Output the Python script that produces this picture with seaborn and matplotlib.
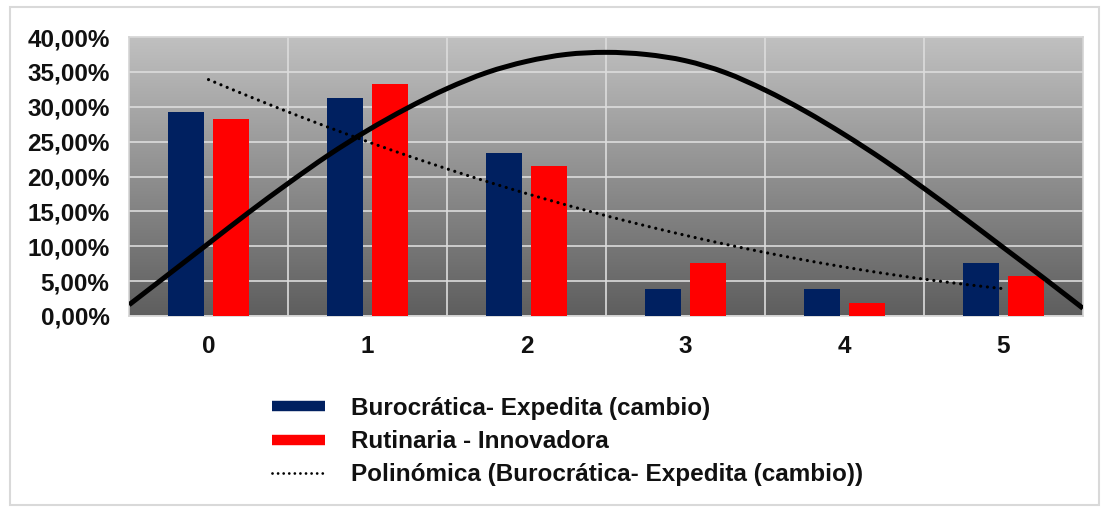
import numpy as np
import pandas as pd
import matplotlib
matplotlib.use("Agg")
import matplotlib.pyplot as plt
import seaborn as sns
from matplotlib.lines import Line2D
from matplotlib.patches import Rectangle, PathPatch
from matplotlib.path import Path
from matplotlib.ticker import FuncFormatter, FixedLocator

# ---- data ----
categories = [0, 1, 2, 3, 4, 5]
burocratica = [29.2, 31.25, 23.3, 3.8, 3.8, 7.6]
rutinaria = [28.3, 33.3, 21.5, 7.6, 1.8, 5.8]
series_names = ["Burocrática- Expedita (cambio)", "Rutinaria - Innovadora"]
trend_name = "Polinómica (Burocrática- Expedita (cambio))"

curve_x = [-0.5, -0.25, 0, 0.25, 0.5, 0.75, 1, 1.25, 1.5, 1.75, 2, 2.25, 2.5,
           2.75, 3, 3.25, 3.5, 3.75, 4, 4.25, 4.5, 4.75, 5, 5.25, 5.5]
curve_y = [1.6, 6.0, 10.4, 14.8, 19.0, 23.0, 26.6, 29.8, 32.6, 34.9, 36.5, 37.5, 37.8,
           37.5, 36.6, 34.9, 32.4, 29.4, 26.0, 22.3, 18.3, 14.1, 9.8, 5.5, 1.1]

y_ticks = [0, 5, 10, 15, 20, 25, 30, 35, 40]

colors = ["#002060", "#FF0000"]

# ---- build ----
df = pd.DataFrame({
    "cat": categories * 2,
    "value": burocratica + rutinaria,
    "serie": [series_names[0]] * len(categories) + [series_names[1]] * len(categories),
})

# polynomial (order 2) trendline fitted to the first series
coef = np.polyfit(categories, burocratica, 2)
trend_x = np.linspace(categories[0], categories[-1], 100)
trend_y = np.polyval(coef, trend_x)

sns.set_theme(style="white")
plt.rcParams["font.family"] = ["Liberation Sans", "DejaVu Sans"]

W, H = 1109, 512
fig = plt.figure(figsize=(W / 100, H / 100), dpi=100)
fig.patch.set_facecolor("white")
ax = fig.add_axes([129 / W, 1 - 316 / H, (1083 - 129) / W, (316 - 37) / H])

# gradient background (light at top, dark at bottom)
grad = np.linspace(1, 0, 256).reshape(-1, 1)
cmap = matplotlib.colors.LinearSegmentedColormap.from_list("g", ["#c0c0c0", "#5e5e5e"])
ax.imshow(grad, extent=[-0.5, 5.5, 0, 40], aspect="auto", cmap=cmap, zorder=0,
          origin="lower", vmin=0, vmax=1)

sns.barplot(data=df, x="cat", y="value", hue="serie", palette=colors, saturation=1,
            width=0.56, gap=0.196, ax=ax, legend=False, zorder=3,
            edgecolor="none", linewidth=0)

# smooth (Catmull-Rom -> Bezier) drawing of the solid curve through its points
pts = np.column_stack([curve_x, curve_y])
verts = [tuple(pts[0])]
codes = [Path.MOVETO]
n = len(pts)
for i in range(n - 1):
    p0 = pts[i - 1] if i > 0 else pts[i]
    p1, p2 = pts[i], pts[i + 1]
    p3 = pts[i + 2] if i + 2 < n else pts[i + 1]
    c1 = p1 + (p2 - p0) / 6.0
    c2 = p2 - (p3 - p1) / 6.0
    verts += [tuple(c1), tuple(c2), tuple(p2)]
    codes += [Path.CURVE4] * 3
ax.add_patch(PathPatch(Path(verts, codes), facecolor="none", edgecolor="black",
                       lw=3.6, zorder=5, capstyle="butt", transform=ax.transData))

sns.lineplot(x=trend_x, y=trend_y, ax=ax, color="black", lw=2.3, zorder=4,
             linestyle=(0, (0.01, 2.1)), dash_capstyle="round")

ax.set_xlim(-0.5, 5.5)
ax.set_ylim(0, 40)
ax.yaxis.set_major_locator(FixedLocator(y_ticks))
ax.yaxis.set_major_formatter(FuncFormatter(lambda v, p: f"{v:.2f}".replace(".", ",") + "%"))
ax.set_xticks(range(len(categories)))
ax.set_xticklabels([str(c) for c in categories])
ax.xaxis.set_minor_locator(FixedLocator([i + 0.5 for i in range(len(categories) - 1)]))
ax.grid(True, axis="y", which="major", color="#dcdcdc", lw=1.2, zorder=1)
ax.grid(True, axis="x", which="minor", color="#dcdcdc", lw=1.2, zorder=1)
ax.set_axisbelow(True)
ax.tick_params(axis="both", which="both", length=0)
ax.tick_params(axis="y", labelsize=17.5, pad=14)
ax.tick_params(axis="x", labelsize=17.5, pad=14)
for lab in ax.get_xticklabels() + ax.get_yticklabels():
    lab.set_fontweight("bold")
    lab.set_color("#111111")
ax.set_xlabel("")
ax.set_ylabel("")
for s in ax.spines.values():
    s.set_color("#d4d4d4")
    s.set_linewidth(1.2)

handles = [
    Line2D([0], [0], color=colors[0], lw=7.5, solid_capstyle="butt"),
    Line2D([0], [0], color=colors[1], lw=7.5, solid_capstyle="butt"),
    Line2D([0], [0], color="black", lw=2.0, linestyle=(0, (0.01, 2.0)), dash_capstyle="round"),
]
leg = fig.legend(handles, series_names + [trend_name], loc="upper left",
                 bbox_to_anchor=(250 / W, 1 - 375 / H), frameon=False,
                 prop={"size": 17.5, "weight": "bold"}, handlelength=2.2,
                 handletextpad=1.05, labelspacing=0.42)
for t in leg.get_texts():
    t.set_color("#111111")

fig.patches.append(Rectangle((10 / W, 7 / H), (1099 - 10) / W, (505 - 7) / H,
                             transform=fig.transFigure, fill=False,
                             edgecolor="#d9d9d9", lw=1.5))

fig.savefig("out.png", dpi=100)
